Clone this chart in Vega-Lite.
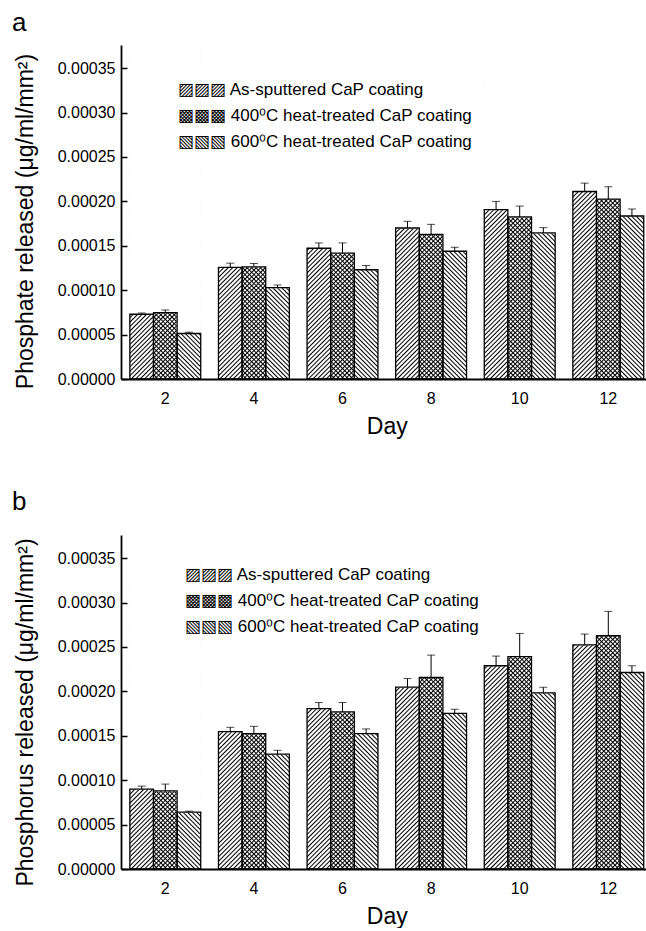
{
"$schema": "https://vega.github.io/schema/vega-lite/v6.json",
"background": "white",
"padding": {"left": 12, "top": 9, "right": 0, "bottom": 0},
"spacing": 50,
"resolve": {"scale": {"shape": "independent"}, "legend": {"shape": "independent"}},
"config": {
"font": "Liberation Sans",
"view": {"stroke": null},
"title": {"fontSize": 26, "fontWeight": "normal", "anchor": "start", "frame": "group", "baseline": "alphabetic", "dx": -109, "color": "black", "font": "Liberation Sans"},
"axis": {"domainColor": "black", "domainWidth": 1.8, "tickColor": "black", "tickWidth": 1.5, "labelColor": "black", "titleColor": "black", "labelFont": "Liberation Sans", "titleFont": "Liberation Sans", "labelFontSize": 16, "titleFontSize": 23, "titleFontWeight": "normal", "grid": false, "zindex": 1},
"legend": {"labelFontSize": 17, "labelFont": "Liberation Sans", "labelColor": "black", "labelLimit": 400, "symbolSize": 1225, "symbolStrokeWidth": 1, "labelOffset": -35, "rowPadding": -6, "padding": 0}
},
"datasets": {
"a": [
{"d":2,"c":"As-sputtered CaP coating","v":0.0000729,"hi":0.0000743},
{"d":2,"c":"400⁰C heat-treated CaP coating","v":0.0000748,"hi":0.0000777},
{"d":2,"c":"600⁰C heat-treated CaP coating","v":0.0000512,"hi":0.0000527},
{"d":4,"c":"As-sputtered CaP coating","v":0.0001256,"hi":0.0001304},
{"d":4,"c":"400⁰C heat-treated CaP coating","v":0.0001263,"hi":0.00013},
{"d":4,"c":"600⁰C heat-treated CaP coating","v":0.0001028,"hi":0.0001058},
{"d":6,"c":"As-sputtered CaP coating","v":0.0001472,"hi":0.0001532},
{"d":6,"c":"400⁰C heat-treated CaP coating","v":0.0001416,"hi":0.0001532},
{"d":6,"c":"600⁰C heat-treated CaP coating","v":0.000123,"hi":0.0001278},
{"d":8,"c":"As-sputtered CaP coating","v":0.00017,"hi":0.0001775},
{"d":8,"c":"400⁰C heat-treated CaP coating","v":0.0001629,"hi":0.0001741},
{"d":8,"c":"600⁰C heat-treated CaP coating","v":0.0001438,"hi":0.0001483},
{"d":10,"c":"As-sputtered CaP coating","v":0.0001906,"hi":0.0001999},
{"d":10,"c":"400⁰C heat-treated CaP coating","v":0.0001824,"hi":0.0001947},
{"d":10,"c":"600⁰C heat-treated CaP coating","v":0.0001644,"hi":0.0001704},
{"d":12,"c":"As-sputtered CaP coating","v":0.0002111,"hi":0.0002205},
{"d":12,"c":"400⁰C heat-treated CaP coating","v":0.0002026,"hi":0.0002164},
{"d":12,"c":"600⁰C heat-treated CaP coating","v":0.0001835,"hi":0.0001913}
],
"b": [
{"d":2,"c":"As-sputtered CaP coating","v":0.00009,"hi":0.0000933},
{"d":2,"c":"400⁰C heat-treated CaP coating","v":0.000088,"hi":0.0000956},
{"d":2,"c":"600⁰C heat-treated CaP coating","v":0.000064,"hi":0.0000651},
{"d":4,"c":"As-sputtered CaP coating","v":0.0001546,"hi":0.0001595},
{"d":4,"c":"400⁰C heat-treated CaP coating","v":0.0001524,"hi":0.0001606},
{"d":4,"c":"600⁰C heat-treated CaP coating","v":0.0001294,"hi":0.0001336},
{"d":6,"c":"As-sputtered CaP coating","v":0.0001806,"hi":0.0001874},
{"d":6,"c":"400⁰C heat-treated CaP coating","v":0.0001768,"hi":0.0001874},
{"d":6,"c":"600⁰C heat-treated CaP coating","v":0.0001524,"hi":0.0001577},
{"d":8,"c":"As-sputtered CaP coating","v":0.0002047,"hi":0.0002144},
{"d":8,"c":"400⁰C heat-treated CaP coating","v":0.0002156,"hi":0.0002408},
{"d":8,"c":"600⁰C heat-treated CaP coating","v":0.0001753,"hi":0.0001798},
{"d":10,"c":"As-sputtered CaP coating","v":0.0002288,"hi":0.0002397},
{"d":10,"c":"400⁰C heat-treated CaP coating","v":0.000239,"hi":0.0002652},
{"d":10,"c":"600⁰C heat-treated CaP coating","v":0.0001983,"hi":0.0002046},
{"d":12,"c":"As-sputtered CaP coating","v":0.0002524,"hi":0.0002645},
{"d":12,"c":"400⁰C heat-treated CaP coating","v":0.0002626,"hi":0.00029},
{"d":12,"c":"600⁰C heat-treated CaP coating","v":0.0002212,"hi":0.0002288}
]
},
"vconcat": [
{
"title": {"text": "a", "offset": 9},
"width": 525, "height": 334,
"data": {"name": "a"},
"encoding": {
"x": {"field": "d", "type": "ordinal", "title": "Day", "scale": {"paddingInner": 0.2, "paddingOuter": 0.1, "range": [0, 531.6]}, "axis": {"ticks": false, "labelAngle": 0, "labelPadding": 11, "titlePadding": 9}},
"xOffset": {"field": "c", "type": "nominal", "scale": {"domain": ["As-sputtered CaP coating", "400⁰C heat-treated CaP coating", "600⁰C heat-treated CaP coating"], "paddingInner": 0, "paddingOuter": 0}}
},
"layer": [
{"transform": [{"filter": {"field": "c", "oneOf": ["As-sputtered CaP coating", "400⁰C heat-treated CaP coating"]}}],
 "mark": {"type": "bar", "fill": {"gradient": "linear", "x1": 0, "y1": 0, "x2": 0.0754, "y2": 1.0654, "stops": [
{"offset":0,"color":"#000"},{"offset":0.004,"color":"transparent"},{"offset":0.0085,"color":"transparent"},
{"offset":0.0125,"color":"#000"},{"offset":0.0165,"color":"transparent"},{"offset":0.021,"color":"transparent"},
{"offset":0.025,"color":"#000"},{"offset":0.029,"color":"transparent"},{"offset":0.0335,"color":"transparent"},
{"offset":0.0375,"color":"#000"},{"offset":0.0415,"color":"transparent"},{"offset":0.046,"color":"transparent"},
{"offset":0.05,"color":"#000"},{"offset":0.054,"color":"transparent"},{"offset":0.0585,"color":"transparent"},
{"offset":0.0625,"color":"#000"},{"offset":0.0665,"color":"transparent"},{"offset":0.071,"color":"transparent"},
{"offset":0.075,"color":"#000"},{"offset":0.079,"color":"transparent"},{"offset":0.0835,"color":"transparent"},
{"offset":0.0875,"color":"#000"},{"offset":0.0915,"color":"transparent"},{"offset":0.096,"color":"transparent"},
{"offset":0.1,"color":"#000"},{"offset":0.104,"color":"transparent"},{"offset":0.1085,"color":"transparent"},
{"offset":0.1125,"color":"#000"},{"offset":0.1165,"color":"transparent"},{"offset":0.121,"color":"transparent"},
{"offset":0.125,"color":"#000"},{"offset":0.129,"color":"transparent"},{"offset":0.1335,"color":"transparent"},
{"offset":0.1375,"color":"#000"},{"offset":0.1415,"color":"transparent"},{"offset":0.146,"color":"transparent"},
{"offset":0.15,"color":"#000"},{"offset":0.154,"color":"transparent"},{"offset":0.1585,"color":"transparent"},
{"offset":0.1625,"color":"#000"},{"offset":0.1665,"color":"transparent"},{"offset":0.171,"color":"transparent"},
{"offset":0.175,"color":"#000"},{"offset":0.179,"color":"transparent"},{"offset":0.1835,"color":"transparent"},
{"offset":0.1875,"color":"#000"},{"offset":0.1915,"color":"transparent"},{"offset":0.196,"color":"transparent"},
{"offset":0.2,"color":"#000"},{"offset":0.204,"color":"transparent"},{"offset":0.2085,"color":"transparent"},
{"offset":0.2125,"color":"#000"},{"offset":0.2165,"color":"transparent"},{"offset":0.221,"color":"transparent"},
{"offset":0.225,"color":"#000"},{"offset":0.229,"color":"transparent"},{"offset":0.2335,"color":"transparent"},
{"offset":0.2375,"color":"#000"},{"offset":0.2415,"color":"transparent"},{"offset":0.246,"color":"transparent"},
{"offset":0.25,"color":"#000"},{"offset":0.254,"color":"transparent"},{"offset":0.2585,"color":"transparent"},
{"offset":0.2625,"color":"#000"},{"offset":0.2665,"color":"transparent"},{"offset":0.271,"color":"transparent"},
{"offset":0.275,"color":"#000"},{"offset":0.279,"color":"transparent"},{"offset":0.2835,"color":"transparent"},
{"offset":0.2875,"color":"#000"},{"offset":0.2915,"color":"transparent"},{"offset":0.296,"color":"transparent"},
{"offset":0.3,"color":"#000"},{"offset":0.304,"color":"transparent"},{"offset":0.3085,"color":"transparent"},
{"offset":0.3125,"color":"#000"},{"offset":0.3165,"color":"transparent"},{"offset":0.321,"color":"transparent"},
{"offset":0.325,"color":"#000"},{"offset":0.329,"color":"transparent"},{"offset":0.3335,"color":"transparent"},
{"offset":0.3375,"color":"#000"},{"offset":0.3415,"color":"transparent"},{"offset":0.346,"color":"transparent"},
{"offset":0.35,"color":"#000"},{"offset":0.354,"color":"transparent"},{"offset":0.3585,"color":"transparent"},
{"offset":0.3625,"color":"#000"},{"offset":0.3665,"color":"transparent"},{"offset":0.371,"color":"transparent"},
{"offset":0.375,"color":"#000"},{"offset":0.379,"color":"transparent"},{"offset":0.3835,"color":"transparent"},
{"offset":0.3875,"color":"#000"},{"offset":0.3915,"color":"transparent"},{"offset":0.396,"color":"transparent"},
{"offset":0.4,"color":"#000"},{"offset":0.404,"color":"transparent"},{"offset":0.4085,"color":"transparent"},
{"offset":0.4125,"color":"#000"},{"offset":0.4165,"color":"transparent"},{"offset":0.421,"color":"transparent"},
{"offset":0.425,"color":"#000"},{"offset":0.429,"color":"transparent"},{"offset":0.4335,"color":"transparent"},
{"offset":0.4375,"color":"#000"},{"offset":0.4415,"color":"transparent"},{"offset":0.446,"color":"transparent"},
{"offset":0.45,"color":"#000"},{"offset":0.454,"color":"transparent"},{"offset":0.4585,"color":"transparent"},
{"offset":0.4625,"color":"#000"},{"offset":0.4665,"color":"transparent"},{"offset":0.471,"color":"transparent"},
{"offset":0.475,"color":"#000"},{"offset":0.479,"color":"transparent"},{"offset":0.4835,"color":"transparent"},
{"offset":0.4875,"color":"#000"},{"offset":0.4915,"color":"transparent"},{"offset":0.496,"color":"transparent"},
{"offset":0.5,"color":"#000"},{"offset":0.504,"color":"transparent"},{"offset":0.5085,"color":"transparent"},
{"offset":0.5125,"color":"#000"},{"offset":0.5165,"color":"transparent"},{"offset":0.521,"color":"transparent"},
{"offset":0.525,"color":"#000"},{"offset":0.529,"color":"transparent"},{"offset":0.5335,"color":"transparent"},
{"offset":0.5375,"color":"#000"},{"offset":0.5415,"color":"transparent"},{"offset":0.546,"color":"transparent"},
{"offset":0.55,"color":"#000"},{"offset":0.554,"color":"transparent"},{"offset":0.5585,"color":"transparent"},
{"offset":0.5625,"color":"#000"},{"offset":0.5665,"color":"transparent"},{"offset":0.571,"color":"transparent"},
{"offset":0.575,"color":"#000"},{"offset":0.579,"color":"transparent"},{"offset":0.5835,"color":"transparent"},
{"offset":0.5875,"color":"#000"},{"offset":0.5915,"color":"transparent"},{"offset":0.596,"color":"transparent"},
{"offset":0.6,"color":"#000"},{"offset":0.604,"color":"transparent"},{"offset":0.6085,"color":"transparent"},
{"offset":0.6125,"color":"#000"},{"offset":0.6165,"color":"transparent"},{"offset":0.621,"color":"transparent"},
{"offset":0.625,"color":"#000"},{"offset":0.629,"color":"transparent"},{"offset":0.6335,"color":"transparent"},
{"offset":0.6375,"color":"#000"},{"offset":0.6415,"color":"transparent"},{"offset":0.646,"color":"transparent"},
{"offset":0.65,"color":"#000"},{"offset":0.654,"color":"transparent"},{"offset":0.6585,"color":"transparent"},
{"offset":0.6625,"color":"#000"},{"offset":0.6665,"color":"transparent"},{"offset":0.671,"color":"transparent"},
{"offset":0.675,"color":"#000"},{"offset":0.679,"color":"transparent"},{"offset":0.6835,"color":"transparent"},
{"offset":0.6875,"color":"#000"},{"offset":0.6915,"color":"transparent"},{"offset":0.696,"color":"transparent"},
{"offset":0.7,"color":"#000"},{"offset":0.704,"color":"transparent"},{"offset":0.7085,"color":"transparent"},
{"offset":0.7125,"color":"#000"},{"offset":0.7165,"color":"transparent"},{"offset":0.721,"color":"transparent"},
{"offset":0.725,"color":"#000"},{"offset":0.729,"color":"transparent"},{"offset":0.7335,"color":"transparent"},
{"offset":0.7375,"color":"#000"},{"offset":0.7415,"color":"transparent"},{"offset":0.746,"color":"transparent"},
{"offset":0.75,"color":"#000"},{"offset":0.754,"color":"transparent"},{"offset":0.7585,"color":"transparent"},
{"offset":0.7625,"color":"#000"},{"offset":0.7665,"color":"transparent"},{"offset":0.771,"color":"transparent"},
{"offset":0.775,"color":"#000"},{"offset":0.779,"color":"transparent"},{"offset":0.7835,"color":"transparent"},
{"offset":0.7875,"color":"#000"},{"offset":0.7915,"color":"transparent"},{"offset":0.796,"color":"transparent"},
{"offset":0.8,"color":"#000"},{"offset":0.804,"color":"transparent"},{"offset":0.8085,"color":"transparent"},
{"offset":0.8125,"color":"#000"},{"offset":0.8165,"color":"transparent"},{"offset":0.821,"color":"transparent"},
{"offset":0.825,"color":"#000"},{"offset":0.829,"color":"transparent"},{"offset":0.8335,"color":"transparent"},
{"offset":0.8375,"color":"#000"},{"offset":0.8415,"color":"transparent"},{"offset":0.846,"color":"transparent"},
{"offset":0.85,"color":"#000"},{"offset":0.854,"color":"transparent"},{"offset":0.8585,"color":"transparent"},
{"offset":0.8625,"color":"#000"},{"offset":0.8665,"color":"transparent"},{"offset":0.871,"color":"transparent"},
{"offset":0.875,"color":"#000"},{"offset":0.879,"color":"transparent"},{"offset":0.8835,"color":"transparent"},
{"offset":0.8875,"color":"#000"},{"offset":0.8915,"color":"transparent"},{"offset":0.896,"color":"transparent"},
{"offset":0.9,"color":"#000"},{"offset":0.904,"color":"transparent"},{"offset":0.9085,"color":"transparent"},
{"offset":0.9125,"color":"#000"},{"offset":0.9165,"color":"transparent"},{"offset":0.921,"color":"transparent"},
{"offset":0.925,"color":"#000"},{"offset":0.929,"color":"transparent"},{"offset":0.9335,"color":"transparent"},
{"offset":0.9375,"color":"#000"},{"offset":0.9415,"color":"transparent"},{"offset":0.946,"color":"transparent"},
{"offset":0.95,"color":"#000"},{"offset":0.954,"color":"transparent"},{"offset":0.9585,"color":"transparent"},
{"offset":0.9625,"color":"#000"},{"offset":0.9665,"color":"transparent"},{"offset":0.971,"color":"transparent"},
{"offset":0.975,"color":"#000"},{"offset":0.979,"color":"transparent"},{"offset":0.9835,"color":"transparent"},
{"offset":0.9875,"color":"#000"},{"offset":0.9915,"color":"transparent"},{"offset":0.996,"color":"transparent"},
{"offset":1,"color":"#000"}]}},
 "encoding": {"y": {"datum": 0.000376, "type": "quantitative", "title": "Phosphate released (μg/ml/mm²)", "scale": {"domain": [0, 0.000376], "nice": false}, "axis": {"values": [0, 0.00005, 0.0001, 0.00015, 0.0002, 0.00025, 0.0003, 0.00035], "format": ".5f", "tickSize": -6, "labelPadding": 12, "titlePadding": 20, "titleY": 176}}}},
{"transform": [{"filter": {"field": "c", "oneOf": ["400⁰C heat-treated CaP coating", "600⁰C heat-treated CaP coating"]}}],
 "mark": {"type": "bar", "fill": {"gradient": "linear", "x1": 0, "y1": 1, "x2": 0.0754, "y2": -0.0654, "stops": [
{"offset":0,"color":"#000"},{"offset":0.004,"color":"transparent"},{"offset":0.0085,"color":"transparent"},
{"offset":0.0125,"color":"#000"},{"offset":0.0165,"color":"transparent"},{"offset":0.021,"color":"transparent"},
{"offset":0.025,"color":"#000"},{"offset":0.029,"color":"transparent"},{"offset":0.0335,"color":"transparent"},
{"offset":0.0375,"color":"#000"},{"offset":0.0415,"color":"transparent"},{"offset":0.046,"color":"transparent"},
{"offset":0.05,"color":"#000"},{"offset":0.054,"color":"transparent"},{"offset":0.0585,"color":"transparent"},
{"offset":0.0625,"color":"#000"},{"offset":0.0665,"color":"transparent"},{"offset":0.071,"color":"transparent"},
{"offset":0.075,"color":"#000"},{"offset":0.079,"color":"transparent"},{"offset":0.0835,"color":"transparent"},
{"offset":0.0875,"color":"#000"},{"offset":0.0915,"color":"transparent"},{"offset":0.096,"color":"transparent"},
{"offset":0.1,"color":"#000"},{"offset":0.104,"color":"transparent"},{"offset":0.1085,"color":"transparent"},
{"offset":0.1125,"color":"#000"},{"offset":0.1165,"color":"transparent"},{"offset":0.121,"color":"transparent"},
{"offset":0.125,"color":"#000"},{"offset":0.129,"color":"transparent"},{"offset":0.1335,"color":"transparent"},
{"offset":0.1375,"color":"#000"},{"offset":0.1415,"color":"transparent"},{"offset":0.146,"color":"transparent"},
{"offset":0.15,"color":"#000"},{"offset":0.154,"color":"transparent"},{"offset":0.1585,"color":"transparent"},
{"offset":0.1625,"color":"#000"},{"offset":0.1665,"color":"transparent"},{"offset":0.171,"color":"transparent"},
{"offset":0.175,"color":"#000"},{"offset":0.179,"color":"transparent"},{"offset":0.1835,"color":"transparent"},
{"offset":0.1875,"color":"#000"},{"offset":0.1915,"color":"transparent"},{"offset":0.196,"color":"transparent"},
{"offset":0.2,"color":"#000"},{"offset":0.204,"color":"transparent"},{"offset":0.2085,"color":"transparent"},
{"offset":0.2125,"color":"#000"},{"offset":0.2165,"color":"transparent"},{"offset":0.221,"color":"transparent"},
{"offset":0.225,"color":"#000"},{"offset":0.229,"color":"transparent"},{"offset":0.2335,"color":"transparent"},
{"offset":0.2375,"color":"#000"},{"offset":0.2415,"color":"transparent"},{"offset":0.246,"color":"transparent"},
{"offset":0.25,"color":"#000"},{"offset":0.254,"color":"transparent"},{"offset":0.2585,"color":"transparent"},
{"offset":0.2625,"color":"#000"},{"offset":0.2665,"color":"transparent"},{"offset":0.271,"color":"transparent"},
{"offset":0.275,"color":"#000"},{"offset":0.279,"color":"transparent"},{"offset":0.2835,"color":"transparent"},
{"offset":0.2875,"color":"#000"},{"offset":0.2915,"color":"transparent"},{"offset":0.296,"color":"transparent"},
{"offset":0.3,"color":"#000"},{"offset":0.304,"color":"transparent"},{"offset":0.3085,"color":"transparent"},
{"offset":0.3125,"color":"#000"},{"offset":0.3165,"color":"transparent"},{"offset":0.321,"color":"transparent"},
{"offset":0.325,"color":"#000"},{"offset":0.329,"color":"transparent"},{"offset":0.3335,"color":"transparent"},
{"offset":0.3375,"color":"#000"},{"offset":0.3415,"color":"transparent"},{"offset":0.346,"color":"transparent"},
{"offset":0.35,"color":"#000"},{"offset":0.354,"color":"transparent"},{"offset":0.3585,"color":"transparent"},
{"offset":0.3625,"color":"#000"},{"offset":0.3665,"color":"transparent"},{"offset":0.371,"color":"transparent"},
{"offset":0.375,"color":"#000"},{"offset":0.379,"color":"transparent"},{"offset":0.3835,"color":"transparent"},
{"offset":0.3875,"color":"#000"},{"offset":0.3915,"color":"transparent"},{"offset":0.396,"color":"transparent"},
{"offset":0.4,"color":"#000"},{"offset":0.404,"color":"transparent"},{"offset":0.4085,"color":"transparent"},
{"offset":0.4125,"color":"#000"},{"offset":0.4165,"color":"transparent"},{"offset":0.421,"color":"transparent"},
{"offset":0.425,"color":"#000"},{"offset":0.429,"color":"transparent"},{"offset":0.4335,"color":"transparent"},
{"offset":0.4375,"color":"#000"},{"offset":0.4415,"color":"transparent"},{"offset":0.446,"color":"transparent"},
{"offset":0.45,"color":"#000"},{"offset":0.454,"color":"transparent"},{"offset":0.4585,"color":"transparent"},
{"offset":0.4625,"color":"#000"},{"offset":0.4665,"color":"transparent"},{"offset":0.471,"color":"transparent"},
{"offset":0.475,"color":"#000"},{"offset":0.479,"color":"transparent"},{"offset":0.4835,"color":"transparent"},
{"offset":0.4875,"color":"#000"},{"offset":0.4915,"color":"transparent"},{"offset":0.496,"color":"transparent"},
{"offset":0.5,"color":"#000"},{"offset":0.504,"color":"transparent"},{"offset":0.5085,"color":"transparent"},
{"offset":0.5125,"color":"#000"},{"offset":0.5165,"color":"transparent"},{"offset":0.521,"color":"transparent"},
{"offset":0.525,"color":"#000"},{"offset":0.529,"color":"transparent"},{"offset":0.5335,"color":"transparent"},
{"offset":0.5375,"color":"#000"},{"offset":0.5415,"color":"transparent"},{"offset":0.546,"color":"transparent"},
{"offset":0.55,"color":"#000"},{"offset":0.554,"color":"transparent"},{"offset":0.5585,"color":"transparent"},
{"offset":0.5625,"color":"#000"},{"offset":0.5665,"color":"transparent"},{"offset":0.571,"color":"transparent"},
{"offset":0.575,"color":"#000"},{"offset":0.579,"color":"transparent"},{"offset":0.5835,"color":"transparent"},
{"offset":0.5875,"color":"#000"},{"offset":0.5915,"color":"transparent"},{"offset":0.596,"color":"transparent"},
{"offset":0.6,"color":"#000"},{"offset":0.604,"color":"transparent"},{"offset":0.6085,"color":"transparent"},
{"offset":0.6125,"color":"#000"},{"offset":0.6165,"color":"transparent"},{"offset":0.621,"color":"transparent"},
{"offset":0.625,"color":"#000"},{"offset":0.629,"color":"transparent"},{"offset":0.6335,"color":"transparent"},
{"offset":0.6375,"color":"#000"},{"offset":0.6415,"color":"transparent"},{"offset":0.646,"color":"transparent"},
{"offset":0.65,"color":"#000"},{"offset":0.654,"color":"transparent"},{"offset":0.6585,"color":"transparent"},
{"offset":0.6625,"color":"#000"},{"offset":0.6665,"color":"transparent"},{"offset":0.671,"color":"transparent"},
{"offset":0.675,"color":"#000"},{"offset":0.679,"color":"transparent"},{"offset":0.6835,"color":"transparent"},
{"offset":0.6875,"color":"#000"},{"offset":0.6915,"color":"transparent"},{"offset":0.696,"color":"transparent"},
{"offset":0.7,"color":"#000"},{"offset":0.704,"color":"transparent"},{"offset":0.7085,"color":"transparent"},
{"offset":0.7125,"color":"#000"},{"offset":0.7165,"color":"transparent"},{"offset":0.721,"color":"transparent"},
{"offset":0.725,"color":"#000"},{"offset":0.729,"color":"transparent"},{"offset":0.7335,"color":"transparent"},
{"offset":0.7375,"color":"#000"},{"offset":0.7415,"color":"transparent"},{"offset":0.746,"color":"transparent"},
{"offset":0.75,"color":"#000"},{"offset":0.754,"color":"transparent"},{"offset":0.7585,"color":"transparent"},
{"offset":0.7625,"color":"#000"},{"offset":0.7665,"color":"transparent"},{"offset":0.771,"color":"transparent"},
{"offset":0.775,"color":"#000"},{"offset":0.779,"color":"transparent"},{"offset":0.7835,"color":"transparent"},
{"offset":0.7875,"color":"#000"},{"offset":0.7915,"color":"transparent"},{"offset":0.796,"color":"transparent"},
{"offset":0.8,"color":"#000"},{"offset":0.804,"color":"transparent"},{"offset":0.8085,"color":"transparent"},
{"offset":0.8125,"color":"#000"},{"offset":0.8165,"color":"transparent"},{"offset":0.821,"color":"transparent"},
{"offset":0.825,"color":"#000"},{"offset":0.829,"color":"transparent"},{"offset":0.8335,"color":"transparent"},
{"offset":0.8375,"color":"#000"},{"offset":0.8415,"color":"transparent"},{"offset":0.846,"color":"transparent"},
{"offset":0.85,"color":"#000"},{"offset":0.854,"color":"transparent"},{"offset":0.8585,"color":"transparent"},
{"offset":0.8625,"color":"#000"},{"offset":0.8665,"color":"transparent"},{"offset":0.871,"color":"transparent"},
{"offset":0.875,"color":"#000"},{"offset":0.879,"color":"transparent"},{"offset":0.8835,"color":"transparent"},
{"offset":0.8875,"color":"#000"},{"offset":0.8915,"color":"transparent"},{"offset":0.896,"color":"transparent"},
{"offset":0.9,"color":"#000"},{"offset":0.904,"color":"transparent"},{"offset":0.9085,"color":"transparent"},
{"offset":0.9125,"color":"#000"},{"offset":0.9165,"color":"transparent"},{"offset":0.921,"color":"transparent"},
{"offset":0.925,"color":"#000"},{"offset":0.929,"color":"transparent"},{"offset":0.9335,"color":"transparent"},
{"offset":0.9375,"color":"#000"},{"offset":0.9415,"color":"transparent"},{"offset":0.946,"color":"transparent"},
{"offset":0.95,"color":"#000"},{"offset":0.954,"color":"transparent"},{"offset":0.9585,"color":"transparent"},
{"offset":0.9625,"color":"#000"},{"offset":0.9665,"color":"transparent"},{"offset":0.971,"color":"transparent"},
{"offset":0.975,"color":"#000"},{"offset":0.979,"color":"transparent"},{"offset":0.9835,"color":"transparent"},
{"offset":0.9875,"color":"#000"},{"offset":0.9915,"color":"transparent"},{"offset":0.996,"color":"transparent"},
{"offset":1,"color":"#000"}]}},
 "encoding": {"y": {"datum": 0.000376, "type": "quantitative", "title": "Phosphate released (μg/ml/mm²)"}}},
{"mark": {"type": "bar", "fill": "white", "stroke": "white", "strokeWidth": 1},
 "encoding": {"y": {"field": "v", "type": "quantitative", "title": "Phosphate released (μg/ml/mm²)"}, "y2": {"datum": 0.000376}}},
{"mark": {"type": "bar", "fill": "transparent", "stroke": "black", "strokeWidth": 1.3},
 "encoding": {"y": {"field": "v", "type": "quantitative", "title": "Phosphate released (μg/ml/mm²)"}}},
{"mark": {"type": "rule", "color": "black", "strokeWidth": 1},
 "encoding": {"y": {"field": "v", "type": "quantitative", "title": "Phosphate released (μg/ml/mm²)"}, "y2": {"field": "hi"}}},
{"mark": {"type": "tick", "color": "black", "size": 8, "thickness": 1},
 "encoding": {"y": {"field": "hi", "type": "quantitative", "title": "Phosphate released (μg/ml/mm²)"}}},
{"mark": {"type": "point", "size": 0, "opacity": 1, "filled": true, "fill": "white", "stroke": "black", "strokeWidth": 1},
 "encoding": {"y": {"field": "v", "type": "quantitative", "title": "Phosphate released (μg/ml/mm²)"},
  "shape": {"field": "c", "type": "nominal",
   "scale": {"domain": ["As-sputtered CaP coating", "400⁰C heat-treated CaP coating", "600⁰C heat-treated CaP coating"],
    "range": ["M-1,-0.45H1V0.45H-1Z", "M-1,-0.45H1V0.45H-1Z", "M-1,-0.45H1V0.45H-1Z"]},
   "legend": {"title": null, "orient": "none", "legendX": 56, "legendY": 27, "symbolSize": 1225, "symbolOpacity": 0,
    "labelExpr": "datum.label == 'As-sputtered CaP coating' ? '▨▨▨ ' + datum.label : (datum.label == '400⁰C heat-treated CaP coating' ? '▩▩▩ ' + datum.label : '▧▧▧ ' + datum.label)"}}}}
]
},
{
"title": {"text": "b", "offset": 20},
"width": 525, "height": 334,
"data": {"name": "b"},
"encoding": {
"x": {"field": "d", "type": "ordinal", "title": "Day", "scale": {"paddingInner": 0.2, "paddingOuter": 0.1, "range": [0, 531.6]}, "axis": {"ticks": false, "labelAngle": 0, "labelPadding": 11, "titlePadding": 9}},
"xOffset": {"field": "c", "type": "nominal", "scale": {"domain": ["As-sputtered CaP coating", "400⁰C heat-treated CaP coating", "600⁰C heat-treated CaP coating"], "paddingInner": 0, "paddingOuter": 0}}
},
"layer": [
{"transform": [{"filter": {"field": "c", "oneOf": ["As-sputtered CaP coating", "400⁰C heat-treated CaP coating"]}}],
 "mark": {"type": "bar", "fill": {"gradient": "linear", "x1": 0, "y1": 0, "x2": 0.0754, "y2": 1.0654, "stops": [
{"offset":0,"color":"#000"},{"offset":0.004,"color":"transparent"},{"offset":0.0085,"color":"transparent"},
{"offset":0.0125,"color":"#000"},{"offset":0.0165,"color":"transparent"},{"offset":0.021,"color":"transparent"},
{"offset":0.025,"color":"#000"},{"offset":0.029,"color":"transparent"},{"offset":0.0335,"color":"transparent"},
{"offset":0.0375,"color":"#000"},{"offset":0.0415,"color":"transparent"},{"offset":0.046,"color":"transparent"},
{"offset":0.05,"color":"#000"},{"offset":0.054,"color":"transparent"},{"offset":0.0585,"color":"transparent"},
{"offset":0.0625,"color":"#000"},{"offset":0.0665,"color":"transparent"},{"offset":0.071,"color":"transparent"},
{"offset":0.075,"color":"#000"},{"offset":0.079,"color":"transparent"},{"offset":0.0835,"color":"transparent"},
{"offset":0.0875,"color":"#000"},{"offset":0.0915,"color":"transparent"},{"offset":0.096,"color":"transparent"},
{"offset":0.1,"color":"#000"},{"offset":0.104,"color":"transparent"},{"offset":0.1085,"color":"transparent"},
{"offset":0.1125,"color":"#000"},{"offset":0.1165,"color":"transparent"},{"offset":0.121,"color":"transparent"},
{"offset":0.125,"color":"#000"},{"offset":0.129,"color":"transparent"},{"offset":0.1335,"color":"transparent"},
{"offset":0.1375,"color":"#000"},{"offset":0.1415,"color":"transparent"},{"offset":0.146,"color":"transparent"},
{"offset":0.15,"color":"#000"},{"offset":0.154,"color":"transparent"},{"offset":0.1585,"color":"transparent"},
{"offset":0.1625,"color":"#000"},{"offset":0.1665,"color":"transparent"},{"offset":0.171,"color":"transparent"},
{"offset":0.175,"color":"#000"},{"offset":0.179,"color":"transparent"},{"offset":0.1835,"color":"transparent"},
{"offset":0.1875,"color":"#000"},{"offset":0.1915,"color":"transparent"},{"offset":0.196,"color":"transparent"},
{"offset":0.2,"color":"#000"},{"offset":0.204,"color":"transparent"},{"offset":0.2085,"color":"transparent"},
{"offset":0.2125,"color":"#000"},{"offset":0.2165,"color":"transparent"},{"offset":0.221,"color":"transparent"},
{"offset":0.225,"color":"#000"},{"offset":0.229,"color":"transparent"},{"offset":0.2335,"color":"transparent"},
{"offset":0.2375,"color":"#000"},{"offset":0.2415,"color":"transparent"},{"offset":0.246,"color":"transparent"},
{"offset":0.25,"color":"#000"},{"offset":0.254,"color":"transparent"},{"offset":0.2585,"color":"transparent"},
{"offset":0.2625,"color":"#000"},{"offset":0.2665,"color":"transparent"},{"offset":0.271,"color":"transparent"},
{"offset":0.275,"color":"#000"},{"offset":0.279,"color":"transparent"},{"offset":0.2835,"color":"transparent"},
{"offset":0.2875,"color":"#000"},{"offset":0.2915,"color":"transparent"},{"offset":0.296,"color":"transparent"},
{"offset":0.3,"color":"#000"},{"offset":0.304,"color":"transparent"},{"offset":0.3085,"color":"transparent"},
{"offset":0.3125,"color":"#000"},{"offset":0.3165,"color":"transparent"},{"offset":0.321,"color":"transparent"},
{"offset":0.325,"color":"#000"},{"offset":0.329,"color":"transparent"},{"offset":0.3335,"color":"transparent"},
{"offset":0.3375,"color":"#000"},{"offset":0.3415,"color":"transparent"},{"offset":0.346,"color":"transparent"},
{"offset":0.35,"color":"#000"},{"offset":0.354,"color":"transparent"},{"offset":0.3585,"color":"transparent"},
{"offset":0.3625,"color":"#000"},{"offset":0.3665,"color":"transparent"},{"offset":0.371,"color":"transparent"},
{"offset":0.375,"color":"#000"},{"offset":0.379,"color":"transparent"},{"offset":0.3835,"color":"transparent"},
{"offset":0.3875,"color":"#000"},{"offset":0.3915,"color":"transparent"},{"offset":0.396,"color":"transparent"},
{"offset":0.4,"color":"#000"},{"offset":0.404,"color":"transparent"},{"offset":0.4085,"color":"transparent"},
{"offset":0.4125,"color":"#000"},{"offset":0.4165,"color":"transparent"},{"offset":0.421,"color":"transparent"},
{"offset":0.425,"color":"#000"},{"offset":0.429,"color":"transparent"},{"offset":0.4335,"color":"transparent"},
{"offset":0.4375,"color":"#000"},{"offset":0.4415,"color":"transparent"},{"offset":0.446,"color":"transparent"},
{"offset":0.45,"color":"#000"},{"offset":0.454,"color":"transparent"},{"offset":0.4585,"color":"transparent"},
{"offset":0.4625,"color":"#000"},{"offset":0.4665,"color":"transparent"},{"offset":0.471,"color":"transparent"},
{"offset":0.475,"color":"#000"},{"offset":0.479,"color":"transparent"},{"offset":0.4835,"color":"transparent"},
{"offset":0.4875,"color":"#000"},{"offset":0.4915,"color":"transparent"},{"offset":0.496,"color":"transparent"},
{"offset":0.5,"color":"#000"},{"offset":0.504,"color":"transparent"},{"offset":0.5085,"color":"transparent"},
{"offset":0.5125,"color":"#000"},{"offset":0.5165,"color":"transparent"},{"offset":0.521,"color":"transparent"},
{"offset":0.525,"color":"#000"},{"offset":0.529,"color":"transparent"},{"offset":0.5335,"color":"transparent"},
{"offset":0.5375,"color":"#000"},{"offset":0.5415,"color":"transparent"},{"offset":0.546,"color":"transparent"},
{"offset":0.55,"color":"#000"},{"offset":0.554,"color":"transparent"},{"offset":0.5585,"color":"transparent"},
{"offset":0.5625,"color":"#000"},{"offset":0.5665,"color":"transparent"},{"offset":0.571,"color":"transparent"},
{"offset":0.575,"color":"#000"},{"offset":0.579,"color":"transparent"},{"offset":0.5835,"color":"transparent"},
{"offset":0.5875,"color":"#000"},{"offset":0.5915,"color":"transparent"},{"offset":0.596,"color":"transparent"},
{"offset":0.6,"color":"#000"},{"offset":0.604,"color":"transparent"},{"offset":0.6085,"color":"transparent"},
{"offset":0.6125,"color":"#000"},{"offset":0.6165,"color":"transparent"},{"offset":0.621,"color":"transparent"},
{"offset":0.625,"color":"#000"},{"offset":0.629,"color":"transparent"},{"offset":0.6335,"color":"transparent"},
{"offset":0.6375,"color":"#000"},{"offset":0.6415,"color":"transparent"},{"offset":0.646,"color":"transparent"},
{"offset":0.65,"color":"#000"},{"offset":0.654,"color":"transparent"},{"offset":0.6585,"color":"transparent"},
{"offset":0.6625,"color":"#000"},{"offset":0.6665,"color":"transparent"},{"offset":0.671,"color":"transparent"},
{"offset":0.675,"color":"#000"},{"offset":0.679,"color":"transparent"},{"offset":0.6835,"color":"transparent"},
{"offset":0.6875,"color":"#000"},{"offset":0.6915,"color":"transparent"},{"offset":0.696,"color":"transparent"},
{"offset":0.7,"color":"#000"},{"offset":0.704,"color":"transparent"},{"offset":0.7085,"color":"transparent"},
{"offset":0.7125,"color":"#000"},{"offset":0.7165,"color":"transparent"},{"offset":0.721,"color":"transparent"},
{"offset":0.725,"color":"#000"},{"offset":0.729,"color":"transparent"},{"offset":0.7335,"color":"transparent"},
{"offset":0.7375,"color":"#000"},{"offset":0.7415,"color":"transparent"},{"offset":0.746,"color":"transparent"},
{"offset":0.75,"color":"#000"},{"offset":0.754,"color":"transparent"},{"offset":0.7585,"color":"transparent"},
{"offset":0.7625,"color":"#000"},{"offset":0.7665,"color":"transparent"},{"offset":0.771,"color":"transparent"},
{"offset":0.775,"color":"#000"},{"offset":0.779,"color":"transparent"},{"offset":0.7835,"color":"transparent"},
{"offset":0.7875,"color":"#000"},{"offset":0.7915,"color":"transparent"},{"offset":0.796,"color":"transparent"},
{"offset":0.8,"color":"#000"},{"offset":0.804,"color":"transparent"},{"offset":0.8085,"color":"transparent"},
{"offset":0.8125,"color":"#000"},{"offset":0.8165,"color":"transparent"},{"offset":0.821,"color":"transparent"},
{"offset":0.825,"color":"#000"},{"offset":0.829,"color":"transparent"},{"offset":0.8335,"color":"transparent"},
{"offset":0.8375,"color":"#000"},{"offset":0.8415,"color":"transparent"},{"offset":0.846,"color":"transparent"},
{"offset":0.85,"color":"#000"},{"offset":0.854,"color":"transparent"},{"offset":0.8585,"color":"transparent"},
{"offset":0.8625,"color":"#000"},{"offset":0.8665,"color":"transparent"},{"offset":0.871,"color":"transparent"},
{"offset":0.875,"color":"#000"},{"offset":0.879,"color":"transparent"},{"offset":0.8835,"color":"transparent"},
{"offset":0.8875,"color":"#000"},{"offset":0.8915,"color":"transparent"},{"offset":0.896,"color":"transparent"},
{"offset":0.9,"color":"#000"},{"offset":0.904,"color":"transparent"},{"offset":0.9085,"color":"transparent"},
{"offset":0.9125,"color":"#000"},{"offset":0.9165,"color":"transparent"},{"offset":0.921,"color":"transparent"},
{"offset":0.925,"color":"#000"},{"offset":0.929,"color":"transparent"},{"offset":0.9335,"color":"transparent"},
{"offset":0.9375,"color":"#000"},{"offset":0.9415,"color":"transparent"},{"offset":0.946,"color":"transparent"},
{"offset":0.95,"color":"#000"},{"offset":0.954,"color":"transparent"},{"offset":0.9585,"color":"transparent"},
{"offset":0.9625,"color":"#000"},{"offset":0.9665,"color":"transparent"},{"offset":0.971,"color":"transparent"},
{"offset":0.975,"color":"#000"},{"offset":0.979,"color":"transparent"},{"offset":0.9835,"color":"transparent"},
{"offset":0.9875,"color":"#000"},{"offset":0.9915,"color":"transparent"},{"offset":0.996,"color":"transparent"},
{"offset":1,"color":"#000"}]}},
 "encoding": {"y": {"datum": 0.000376, "type": "quantitative", "title": "Phosphorus released (μg/ml/mm²)", "scale": {"domain": [0, 0.000376], "nice": false}, "axis": {"values": [0, 0.00005, 0.0001, 0.00015, 0.0002, 0.00025, 0.0003, 0.00035], "format": ".5f", "tickSize": -6, "labelPadding": 12, "titlePadding": 20, "titleY": 177}}}},
{"transform": [{"filter": {"field": "c", "oneOf": ["400⁰C heat-treated CaP coating", "600⁰C heat-treated CaP coating"]}}],
 "mark": {"type": "bar", "fill": {"gradient": "linear", "x1": 0, "y1": 1, "x2": 0.0754, "y2": -0.0654, "stops": [
{"offset":0,"color":"#000"},{"offset":0.004,"color":"transparent"},{"offset":0.0085,"color":"transparent"},
{"offset":0.0125,"color":"#000"},{"offset":0.0165,"color":"transparent"},{"offset":0.021,"color":"transparent"},
{"offset":0.025,"color":"#000"},{"offset":0.029,"color":"transparent"},{"offset":0.0335,"color":"transparent"},
{"offset":0.0375,"color":"#000"},{"offset":0.0415,"color":"transparent"},{"offset":0.046,"color":"transparent"},
{"offset":0.05,"color":"#000"},{"offset":0.054,"color":"transparent"},{"offset":0.0585,"color":"transparent"},
{"offset":0.0625,"color":"#000"},{"offset":0.0665,"color":"transparent"},{"offset":0.071,"color":"transparent"},
{"offset":0.075,"color":"#000"},{"offset":0.079,"color":"transparent"},{"offset":0.0835,"color":"transparent"},
{"offset":0.0875,"color":"#000"},{"offset":0.0915,"color":"transparent"},{"offset":0.096,"color":"transparent"},
{"offset":0.1,"color":"#000"},{"offset":0.104,"color":"transparent"},{"offset":0.1085,"color":"transparent"},
{"offset":0.1125,"color":"#000"},{"offset":0.1165,"color":"transparent"},{"offset":0.121,"color":"transparent"},
{"offset":0.125,"color":"#000"},{"offset":0.129,"color":"transparent"},{"offset":0.1335,"color":"transparent"},
{"offset":0.1375,"color":"#000"},{"offset":0.1415,"color":"transparent"},{"offset":0.146,"color":"transparent"},
{"offset":0.15,"color":"#000"},{"offset":0.154,"color":"transparent"},{"offset":0.1585,"color":"transparent"},
{"offset":0.1625,"color":"#000"},{"offset":0.1665,"color":"transparent"},{"offset":0.171,"color":"transparent"},
{"offset":0.175,"color":"#000"},{"offset":0.179,"color":"transparent"},{"offset":0.1835,"color":"transparent"},
{"offset":0.1875,"color":"#000"},{"offset":0.1915,"color":"transparent"},{"offset":0.196,"color":"transparent"},
{"offset":0.2,"color":"#000"},{"offset":0.204,"color":"transparent"},{"offset":0.2085,"color":"transparent"},
{"offset":0.2125,"color":"#000"},{"offset":0.2165,"color":"transparent"},{"offset":0.221,"color":"transparent"},
{"offset":0.225,"color":"#000"},{"offset":0.229,"color":"transparent"},{"offset":0.2335,"color":"transparent"},
{"offset":0.2375,"color":"#000"},{"offset":0.2415,"color":"transparent"},{"offset":0.246,"color":"transparent"},
{"offset":0.25,"color":"#000"},{"offset":0.254,"color":"transparent"},{"offset":0.2585,"color":"transparent"},
{"offset":0.2625,"color":"#000"},{"offset":0.2665,"color":"transparent"},{"offset":0.271,"color":"transparent"},
{"offset":0.275,"color":"#000"},{"offset":0.279,"color":"transparent"},{"offset":0.2835,"color":"transparent"},
{"offset":0.2875,"color":"#000"},{"offset":0.2915,"color":"transparent"},{"offset":0.296,"color":"transparent"},
{"offset":0.3,"color":"#000"},{"offset":0.304,"color":"transparent"},{"offset":0.3085,"color":"transparent"},
{"offset":0.3125,"color":"#000"},{"offset":0.3165,"color":"transparent"},{"offset":0.321,"color":"transparent"},
{"offset":0.325,"color":"#000"},{"offset":0.329,"color":"transparent"},{"offset":0.3335,"color":"transparent"},
{"offset":0.3375,"color":"#000"},{"offset":0.3415,"color":"transparent"},{"offset":0.346,"color":"transparent"},
{"offset":0.35,"color":"#000"},{"offset":0.354,"color":"transparent"},{"offset":0.3585,"color":"transparent"},
{"offset":0.3625,"color":"#000"},{"offset":0.3665,"color":"transparent"},{"offset":0.371,"color":"transparent"},
{"offset":0.375,"color":"#000"},{"offset":0.379,"color":"transparent"},{"offset":0.3835,"color":"transparent"},
{"offset":0.3875,"color":"#000"},{"offset":0.3915,"color":"transparent"},{"offset":0.396,"color":"transparent"},
{"offset":0.4,"color":"#000"},{"offset":0.404,"color":"transparent"},{"offset":0.4085,"color":"transparent"},
{"offset":0.4125,"color":"#000"},{"offset":0.4165,"color":"transparent"},{"offset":0.421,"color":"transparent"},
{"offset":0.425,"color":"#000"},{"offset":0.429,"color":"transparent"},{"offset":0.4335,"color":"transparent"},
{"offset":0.4375,"color":"#000"},{"offset":0.4415,"color":"transparent"},{"offset":0.446,"color":"transparent"},
{"offset":0.45,"color":"#000"},{"offset":0.454,"color":"transparent"},{"offset":0.4585,"color":"transparent"},
{"offset":0.4625,"color":"#000"},{"offset":0.4665,"color":"transparent"},{"offset":0.471,"color":"transparent"},
{"offset":0.475,"color":"#000"},{"offset":0.479,"color":"transparent"},{"offset":0.4835,"color":"transparent"},
{"offset":0.4875,"color":"#000"},{"offset":0.4915,"color":"transparent"},{"offset":0.496,"color":"transparent"},
{"offset":0.5,"color":"#000"},{"offset":0.504,"color":"transparent"},{"offset":0.5085,"color":"transparent"},
{"offset":0.5125,"color":"#000"},{"offset":0.5165,"color":"transparent"},{"offset":0.521,"color":"transparent"},
{"offset":0.525,"color":"#000"},{"offset":0.529,"color":"transparent"},{"offset":0.5335,"color":"transparent"},
{"offset":0.5375,"color":"#000"},{"offset":0.5415,"color":"transparent"},{"offset":0.546,"color":"transparent"},
{"offset":0.55,"color":"#000"},{"offset":0.554,"color":"transparent"},{"offset":0.5585,"color":"transparent"},
{"offset":0.5625,"color":"#000"},{"offset":0.5665,"color":"transparent"},{"offset":0.571,"color":"transparent"},
{"offset":0.575,"color":"#000"},{"offset":0.579,"color":"transparent"},{"offset":0.5835,"color":"transparent"},
{"offset":0.5875,"color":"#000"},{"offset":0.5915,"color":"transparent"},{"offset":0.596,"color":"transparent"},
{"offset":0.6,"color":"#000"},{"offset":0.604,"color":"transparent"},{"offset":0.6085,"color":"transparent"},
{"offset":0.6125,"color":"#000"},{"offset":0.6165,"color":"transparent"},{"offset":0.621,"color":"transparent"},
{"offset":0.625,"color":"#000"},{"offset":0.629,"color":"transparent"},{"offset":0.6335,"color":"transparent"},
{"offset":0.6375,"color":"#000"},{"offset":0.6415,"color":"transparent"},{"offset":0.646,"color":"transparent"},
{"offset":0.65,"color":"#000"},{"offset":0.654,"color":"transparent"},{"offset":0.6585,"color":"transparent"},
{"offset":0.6625,"color":"#000"},{"offset":0.6665,"color":"transparent"},{"offset":0.671,"color":"transparent"},
{"offset":0.675,"color":"#000"},{"offset":0.679,"color":"transparent"},{"offset":0.6835,"color":"transparent"},
{"offset":0.6875,"color":"#000"},{"offset":0.6915,"color":"transparent"},{"offset":0.696,"color":"transparent"},
{"offset":0.7,"color":"#000"},{"offset":0.704,"color":"transparent"},{"offset":0.7085,"color":"transparent"},
{"offset":0.7125,"color":"#000"},{"offset":0.7165,"color":"transparent"},{"offset":0.721,"color":"transparent"},
{"offset":0.725,"color":"#000"},{"offset":0.729,"color":"transparent"},{"offset":0.7335,"color":"transparent"},
{"offset":0.7375,"color":"#000"},{"offset":0.7415,"color":"transparent"},{"offset":0.746,"color":"transparent"},
{"offset":0.75,"color":"#000"},{"offset":0.754,"color":"transparent"},{"offset":0.7585,"color":"transparent"},
{"offset":0.7625,"color":"#000"},{"offset":0.7665,"color":"transparent"},{"offset":0.771,"color":"transparent"},
{"offset":0.775,"color":"#000"},{"offset":0.779,"color":"transparent"},{"offset":0.7835,"color":"transparent"},
{"offset":0.7875,"color":"#000"},{"offset":0.7915,"color":"transparent"},{"offset":0.796,"color":"transparent"},
{"offset":0.8,"color":"#000"},{"offset":0.804,"color":"transparent"},{"offset":0.8085,"color":"transparent"},
{"offset":0.8125,"color":"#000"},{"offset":0.8165,"color":"transparent"},{"offset":0.821,"color":"transparent"},
{"offset":0.825,"color":"#000"},{"offset":0.829,"color":"transparent"},{"offset":0.8335,"color":"transparent"},
{"offset":0.8375,"color":"#000"},{"offset":0.8415,"color":"transparent"},{"offset":0.846,"color":"transparent"},
{"offset":0.85,"color":"#000"},{"offset":0.854,"color":"transparent"},{"offset":0.8585,"color":"transparent"},
{"offset":0.8625,"color":"#000"},{"offset":0.8665,"color":"transparent"},{"offset":0.871,"color":"transparent"},
{"offset":0.875,"color":"#000"},{"offset":0.879,"color":"transparent"},{"offset":0.8835,"color":"transparent"},
{"offset":0.8875,"color":"#000"},{"offset":0.8915,"color":"transparent"},{"offset":0.896,"color":"transparent"},
{"offset":0.9,"color":"#000"},{"offset":0.904,"color":"transparent"},{"offset":0.9085,"color":"transparent"},
{"offset":0.9125,"color":"#000"},{"offset":0.9165,"color":"transparent"},{"offset":0.921,"color":"transparent"},
{"offset":0.925,"color":"#000"},{"offset":0.929,"color":"transparent"},{"offset":0.9335,"color":"transparent"},
{"offset":0.9375,"color":"#000"},{"offset":0.9415,"color":"transparent"},{"offset":0.946,"color":"transparent"},
{"offset":0.95,"color":"#000"},{"offset":0.954,"color":"transparent"},{"offset":0.9585,"color":"transparent"},
{"offset":0.9625,"color":"#000"},{"offset":0.9665,"color":"transparent"},{"offset":0.971,"color":"transparent"},
{"offset":0.975,"color":"#000"},{"offset":0.979,"color":"transparent"},{"offset":0.9835,"color":"transparent"},
{"offset":0.9875,"color":"#000"},{"offset":0.9915,"color":"transparent"},{"offset":0.996,"color":"transparent"},
{"offset":1,"color":"#000"}]}},
 "encoding": {"y": {"datum": 0.000376, "type": "quantitative", "title": "Phosphorus released (μg/ml/mm²)"}}},
{"mark": {"type": "bar", "fill": "white", "stroke": "white", "strokeWidth": 1},
 "encoding": {"y": {"field": "v", "type": "quantitative", "title": "Phosphorus released (μg/ml/mm²)"}, "y2": {"datum": 0.000376}}},
{"mark": {"type": "bar", "fill": "transparent", "stroke": "black", "strokeWidth": 1.3},
 "encoding": {"y": {"field": "v", "type": "quantitative", "title": "Phosphorus released (μg/ml/mm²)"}}},
{"mark": {"type": "rule", "color": "black", "strokeWidth": 1},
 "encoding": {"y": {"field": "v", "type": "quantitative", "title": "Phosphorus released (μg/ml/mm²)"}, "y2": {"field": "hi"}}},
{"mark": {"type": "tick", "color": "black", "size": 8, "thickness": 1},
 "encoding": {"y": {"field": "hi", "type": "quantitative", "title": "Phosphorus released (μg/ml/mm²)"}}},
{"mark": {"type": "point", "size": 0, "opacity": 1, "filled": true, "fill": "white", "stroke": "black", "strokeWidth": 1},
 "encoding": {"y": {"field": "v", "type": "quantitative", "title": "Phosphorus released (μg/ml/mm²)"},
  "shape": {"field": "c", "type": "nominal",
   "scale": {"domain": ["As-sputtered CaP coating", "400⁰C heat-treated CaP coating", "600⁰C heat-treated CaP coating"],
    "range": ["M-1,-0.45H1V0.45H-1Z", "M-1,-0.45H1V0.45H-1Z", "M-1,-0.45H1V0.45H-1Z"]},
   "legend": {"title": null, "orient": "none", "legendX": 63, "legendY": 22, "symbolSize": 1225, "symbolOpacity": 0,
    "labelExpr": "datum.label == 'As-sputtered CaP coating' ? '▨▨▨ ' + datum.label : (datum.label == '400⁰C heat-treated CaP coating' ? '▩▩▩ ' + datum.label : '▧▧▧ ' + datum.label)"}}}}
]
}
]
}
